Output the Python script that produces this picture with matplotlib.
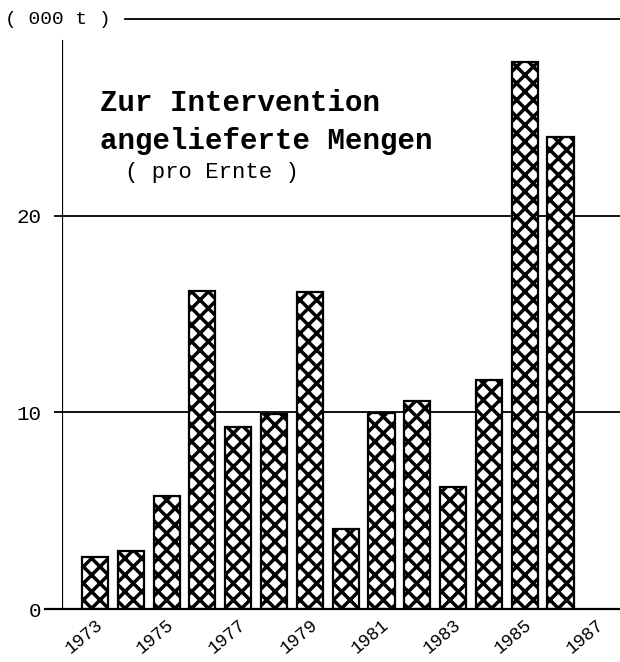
import matplotlib
matplotlib.use("Agg")
import matplotlib.pyplot as plt
import numpy as np

# harvest years and delivered quantities (000 t)
years = [1973, 1974, 1975, 1976, 1977, 1978, 1979, 1980, 1981, 1982, 1983, 1984, 1985, 1986]
mengen = [2.65, 2.95, 5.75, 16.2, 9.25, 9.9, 16.15, 4.05, 9.95, 10.6, 6.2, 11.65, 27.8, 24.0]
xtick_years = [1973, 1975, 1977, 1979, 1981, 1983, 1985, 1987]
ytick_vals = [0, 10, 20]

plt.rcParams['font.family'] = ['Liberation Mono', 'DejaVu Sans Mono']
plt.rcParams['hatch.linewidth'] = 2.5

fig = plt.figure(figsize=(6.2, 6.62), dpi=100)
ax = fig.add_axes([0.1, 0.08, 0.9, 0.891])

ax.bar(years, mengen, width=0.73, color='white', edgecolor='black', hatch='xx', linewidth=1.6, zorder=3)

ax.set_xlim(1972.08, 1987.66)
ax.set_ylim(0, 30)

for s in ax.spines.values():
    s.set_visible(False)

# horizontal reference lines
ax.axhline(10, color='black', lw=1.3, zorder=1)
ax.axhline(20, color='black', lw=1.3, zorder=1)
ax.axhline(30, xmin=0.113, color='black', lw=1.3, zorder=1, clip_on=False)
ax.axhline(0, xmin=-0.03, color='black', lw=1.6, zorder=4, clip_on=False)
ax.axvline(1972.08, ymax=28.9 / 30, color='black', lw=1.6, zorder=4)

ax.set_yticks(ytick_vals)
ax.set_yticklabels([str(v) for v in ytick_vals], fontsize=15)
ax.tick_params(axis='y', direction='out', length=6, width=1.3, pad=9)
ax.set_xticks(xtick_years)
ax.set_xticklabels([str(y) for y in xtick_years], fontsize=13, rotation=40,
                   ha='right', va='top', rotation_mode='anchor')
ax.tick_params(axis='x', length=0, pad=5)

fig.text(0.008, 0.971, "( 000 t )", fontsize=14, va='center', ha='left')

ax.text(1973.14, 24.75, "Zur Intervention\nangelieferte Mengen", fontsize=21,
        fontweight='bold', va='center', ha='left', linespacing=1.45)
ax.text(1973.84, 22.2, "( pro Ernte )", fontsize=16, va='center', ha='left')

fig.savefig("out.png", dpi=100)
